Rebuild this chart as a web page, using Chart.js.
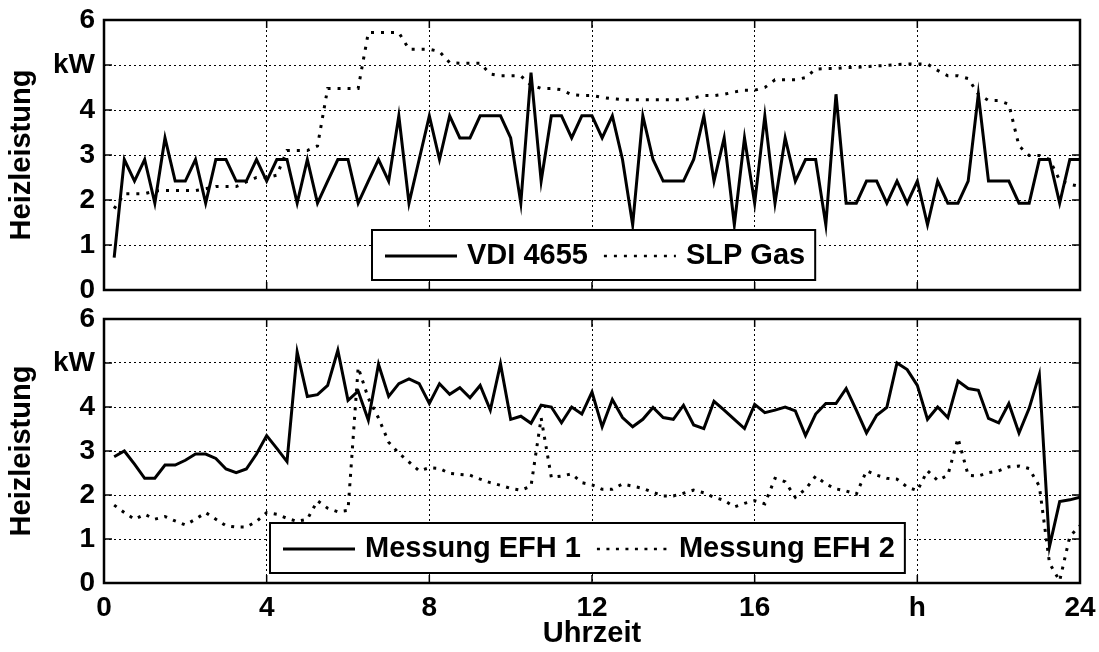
<!DOCTYPE html>
<html>
<head>
<meta charset="utf-8">
<title>Heizleistung Tagesgang</title>
<script src="https://cdn.jsdelivr.net/npm/chart.js@4.4.1/dist/chart.umd.min.js"></script>
<style>
  html, body { margin: 0; padding: 0; background: #fff; }
  #wrap { position: relative; width: 1099px; height: 652px; }
  #cTop { position: absolute; left: 0; top: 0; }
  #cBot { position: absolute; left: 0; top: 300px; }
</style>
</head>
<body>
<div id="wrap">
  <canvas id="cTop" width="1099" height="300"></canvas>
  <canvas id="cBot" width="1099" height="352"></canvas>
</div>
<script>
// Time of day in hours, 15-minute resolution
const hours = [
  0.25, 0.5, 0.75, 1, 1.25, 1.5, 1.75, 2, 2.25, 2.5, 2.75, 3,
  3.25, 3.5, 3.75, 4, 4.25, 4.5, 4.75, 5, 5.25, 5.5, 5.75, 6,
  6.25, 6.5, 6.75, 7, 7.25, 7.5, 7.75, 8, 8.25, 8.5, 8.75, 9,
  9.25, 9.5, 9.75, 10, 10.25, 10.5, 10.75, 11, 11.25, 11.5, 11.75, 12,
  12.25, 12.5, 12.75, 13, 13.25, 13.5, 13.75, 14, 14.25, 14.5, 14.75, 15,
  15.25, 15.5, 15.75, 16, 16.25, 16.5, 16.75, 17, 17.25, 17.5, 17.75, 18,
  18.25, 18.5, 18.75, 19, 19.25, 19.5, 19.75, 20, 20.25, 20.5, 20.75, 21,
  21.25, 21.5, 21.75, 22, 22.25, 22.5, 22.75, 23, 23.25, 23.5, 23.75, 24
];

// Heizleistung in kW
const vdi4655 = [
  0.72, 2.9, 2.42, 2.9,   1.93, 3.38, 2.42, 2.42,  2.9, 1.93, 2.9, 2.9,
  2.42, 2.42, 2.9, 2.42,  2.9, 2.9, 1.93, 2.9,     1.93, 2.42, 2.9, 2.9,
  1.93, 2.42, 2.9, 2.42,  3.87, 1.93, 2.9, 3.87,   2.9, 3.87, 3.38, 3.38,
  3.87, 3.87, 3.87, 3.38, 1.93, 4.83, 2.42, 3.87,  3.87, 3.38, 3.87, 3.87,
  3.38, 3.87, 2.9, 1.45,  3.87, 2.9, 2.42, 2.42,   2.42, 2.9, 3.87, 2.42,
  3.38, 1.45, 3.38, 1.93, 3.87, 1.93, 3.38, 2.42,  2.9, 2.9, 1.45, 4.35,
  1.93, 1.93, 2.42, 2.42, 1.93, 2.42, 1.93, 2.42,  1.45, 2.42, 1.93, 1.93,
  2.42, 4.35, 2.42, 2.42, 2.42, 1.93, 1.93, 2.9,   2.9, 1.93, 2.9, 2.9
];

const slpGas = [
  1.81, 2.14, 2.14, 2.14, 2.2, 2.21, 2.21, 2.21,   2.21, 2.25, 2.3, 2.3,
  2.3, 2.4, 2.5, 2.5,     2.55, 3.1, 3.1, 3.1,     3.2, 4.48, 4.48, 4.48,
  4.48, 5.72, 5.72, 5.72, 5.72, 5.35, 5.35, 5.35,  5.3, 5.05, 5.04, 5.04,
  5.04, 4.8, 4.76, 4.76,  4.76, 4.55, 4.48, 4.48,  4.45, 4.34, 4.32, 4.32,
  4.28, 4.25, 4.23, 4.23, 4.23, 4.23, 4.23, 4.23,  4.23, 4.27, 4.32, 4.32,
  4.35, 4.4, 4.44, 4.44,  4.5, 4.67, 4.67, 4.67,   4.72, 4.91, 4.92, 4.92,
  4.94, 4.95, 4.96, 4.98, 4.99, 5.01, 5.02, 5.02,  5.02, 4.88, 4.76, 4.76,
  4.7, 4.35, 4.21, 4.21,  4.13, 3.2, 2.99, 2.99,   2.9, 2.44, 2.35, 2.3
];

const messungEfh1 = [
  2.87, 3.0, 2.7, 2.38,   2.38, 2.68, 2.68, 2.79,  2.93, 2.93, 2.83, 2.59,
  2.51, 2.59, 2.93, 3.35, 3.06, 2.76, 5.25, 4.24,  4.28, 4.49, 5.29, 4.15,
  4.36, 3.7, 4.97, 4.24,  4.53, 4.64, 4.53, 4.08,  4.53, 4.29, 4.44, 4.21,
  4.49, 3.93, 4.98, 3.72, 3.79, 3.63, 4.04, 4.0,   3.64, 4.0, 3.84, 4.34,
  3.55, 4.17, 3.76, 3.55, 3.72, 3.99, 3.76, 3.72,  4.04, 3.59, 3.51, 4.13,
  3.93, 3.72, 3.51, 4.06, 3.87, 3.93, 4.0, 3.91,   3.35, 3.84, 4.08, 4.08,
  4.42, 3.93, 3.41, 3.81, 3.99, 5.0, 4.85, 4.49,   3.72, 4.0, 3.76, 4.59,
  4.42, 4.38, 3.74, 3.64, 4.08, 3.41, 3.97, 4.74,  0.83, 1.85, 1.89, 1.95
];

const messungEfh2 = [
  1.77, 1.6, 1.45, 1.56,  1.45, 1.51, 1.41, 1.32,  1.45, 1.6, 1.45, 1.3,
  1.27, 1.27, 1.4, 1.6,   1.56, 1.47, 1.4, 1.45,   1.87, 1.7, 1.62, 1.65,
  4.9, 4.2, 3.75, 3.2,    2.95, 2.75, 2.55, 2.62,  2.6, 2.49, 2.47, 2.45,
  2.36, 2.28, 2.22, 2.15, 2.11, 2.2, 3.75, 2.4,    2.43, 2.48, 2.28, 2.23,
  2.13, 2.13, 2.25, 2.2,  2.15, 2.06, 1.98, 1.98,  2.04, 2.11, 2.05, 1.95,
  1.88, 1.73, 1.81, 1.87, 1.8, 2.38, 2.3, 1.95,    2.13, 2.43, 2.25, 2.14,
  2.09, 2.02, 2.55, 2.45, 2.38, 2.36, 2.18, 2.1,   2.55, 2.33, 2.45, 3.29,
  2.45, 2.43, 2.51, 2.55, 2.64, 2.66, 2.6, 2.2,    0.45, 0.05, 1.06, 1.3
];

// Axis ticks
const xTicks = [0, 4, 8, 12, 16, 20, 24];
const xTickLabels = ['0', '4', '8', '12', '16', 'h', '24'];
const yTicks = [0, 1, 2, 3, 4, 5, 6];
const yTickLabels = ['0', '1', '2', '3', '4', 'kW', '6'];

const FONT = '"Liberation Sans", Arial, Helvetica, sans-serif';
Chart.defaults.font.family = FONT;
Chart.defaults.color = '#000';

function pts(ys) { return hours.map((h, i) => ({ x: h, y: ys[i] })); }

// Axis frame with inward tick marks on all four sides
const frameTicks = {
  id: 'frameTicks',
  afterDraw(chart) {
    const { ctx, chartArea: a, scales: { x, y } } = chart;
    const len = 8;
    ctx.save();
    ctx.strokeStyle = '#000';
    ctx.setLineDash([]);
    ctx.lineWidth = 1.5;
    ctx.beginPath();
    xTicks.forEach(v => {
      const px = x.getPixelForValue(v);
      ctx.moveTo(px, a.bottom); ctx.lineTo(px, a.bottom - len);
      ctx.moveTo(px, a.top); ctx.lineTo(px, a.top + len);
    });
    yTicks.forEach(v => {
      const py = y.getPixelForValue(v);
      ctx.moveTo(a.left, py); ctx.lineTo(a.left + len, py);
      ctx.moveTo(a.right, py); ctx.lineTo(a.right - len, py);
    });
    ctx.stroke();
    ctx.lineWidth = 2.5;
    ctx.strokeRect(a.left, a.top, a.right - a.left, a.bottom - a.top);
    ctx.restore();
  }
};

// Boxed legend inside the plot area
const boxLegend = {
  id: 'boxLegend',
  afterDraw(chart, args, opts) {
    const ctx = chart.ctx;
    const sample = 72, gapText = 10, gapEntry = 16, padL = 13, padR = 10;
    ctx.save();
    ctx.font = 'bold 29px ' + FONT;
    ctx.textBaseline = 'middle';
    const items = chart.data.datasets.map(d => ({
      label: d.label, w: ctx.measureText(d.label).width,
      dash: d.borderDash || [], lw: d.legendWidth || d.borderWidth
    }));
    let width = padL;
    items.forEach((it, i) => {
      width += sample + gapText + it.w + (i < items.length - 1 ? gapEntry : padR);
    });
    const x0 = opts.left, y0 = opts.top, h = opts.height;
    ctx.fillStyle = '#fff';
    ctx.fillRect(x0, y0, width, h);
    ctx.lineWidth = 2;
    ctx.strokeStyle = '#000';
    ctx.strokeRect(x0, y0, width, h);
    let cx = x0 + padL;
    const cy = y0 + h / 2 + 1;
    items.forEach(it => {
      ctx.beginPath();
      ctx.setLineDash(it.dash);
      ctx.lineWidth = it.lw;
      ctx.moveTo(cx, cy);
      ctx.lineTo(cx + sample, cy);
      ctx.stroke();
      ctx.setLineDash([]);
      ctx.fillStyle = '#000';
      ctx.fillText(it.label, cx + sample + gapText, cy);
      cx += sample + gapText + it.w + gapEntry;
    });
    ctx.restore();
  }
};

function makeOptions(showX, canvasH, plotBottom, legendPos) {
  return {
    responsive: false,
    animation: false,
    layout: { padding: { top: showX ? 19 : 20, right: 19, left: 0, bottom: 0 } },
    plugins: {
      legend: { display: false },
      tooltip: { enabled: false },
      boxLegend: legendPos
    },
    elements: { point: { radius: 0 }, line: { tension: 0 } },
    scales: {
      x: {
        type: 'linear', min: 0, max: 24,
        afterBuildTicks(s) { s.ticks = xTicks.map(v => ({ value: v })); },
        afterFit(s) {
          s.height = canvasH - plotBottom;
          s.paddingLeft = 0; s.paddingRight = 0;
        },
        ticks: {
          display: showX,
          padding: 8,
          font: { size: 28, weight: 'bold' },
          maxRotation: 0,
          callback: v => xTickLabels[xTicks.indexOf(v)]
        },
        grid: { color: '#000', lineWidth: 1, drawTicks: false },
        border: { display: false, dash: [2, 3] },
        title: {
          display: showX, text: 'Uhrzeit',
          font: { size: 29, weight: 'bold' },
          padding: { top: 0, bottom: 1 }
        }
      },
      y: {
        min: 0, max: 6,
        afterBuildTicks(s) { s.ticks = yTicks.map(v => ({ value: v })); },
        afterFit(s) {
          s.width = 104;
          s.paddingTop = 0; s.paddingBottom = 0;
        },
        ticks: {
          padding: 9,
          font: { size: 28, weight: 'bold' },
          callback: v => yTickLabels[yTicks.indexOf(v)]
        },
        grid: { color: '#000', lineWidth: 1, drawTicks: false },
        border: { display: false, dash: [2, 3] },
        title: {
          display: true, text: 'Heizleistung',
          font: { size: 29, weight: 'bold' },
          padding: { top: 5, bottom: 0 }
        }
      }
    }
  };
}

new Chart(document.getElementById('cTop'), {
  type: 'line',
  data: {
    datasets: [
      { label: 'VDI 4655', data: pts(vdi4655), borderColor: '#000', borderWidth: 3, fill: false },
      { label: 'SLP Gas', data: pts(slpGas), borderColor: '#000', borderWidth: 3, borderDash: [3, 7],
        legendWidth: 2.5, fill: false }
    ]
  },
  options: makeOptions(false, 300, 290, { left: 372, top: 230, height: 50 }),
  plugins: [frameTicks, boxLegend]
});

new Chart(document.getElementById('cBot'), {
  type: 'line',
  data: {
    datasets: [
      { label: 'Messung EFH 1', data: pts(messungEfh1), borderColor: '#000', borderWidth: 3, fill: false },
      { label: 'Messung EFH 2', data: pts(messungEfh2), borderColor: '#000', borderWidth: 3, borderDash: [3, 6.5],
        legendWidth: 2.5, fill: false }
    ]
  },
  options: makeOptions(true, 352, 283, { left: 270, top: 223, height: 50 }),
  plugins: [frameTicks, boxLegend]
});
</script>
</body>
</html>
